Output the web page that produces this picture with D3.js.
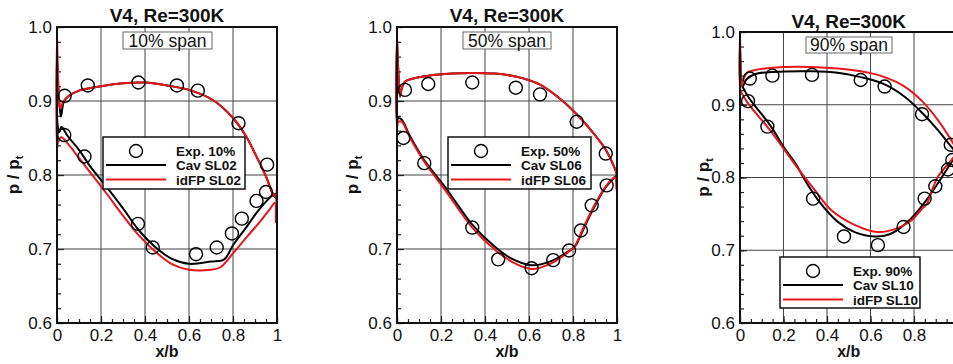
<!DOCTYPE html>
<html>
<head>
<meta charset="utf-8">
<script src="https://cdn.jsdelivr.net/npm/d3@7"></script>
<style>
  body { margin: 0; background: #fff; }
  svg { display: block; font-family: "Liberation Sans", Arial, sans-serif; }
</style>
</head>
<body>
<div id="chart-area"></div>
<script>
// axis ticks
const xTicks = [0, 0.2, 0.4, 0.6, 0.8, 1];
const xTicksCut = [0, 0.2, 0.4, 0.6, 0.8];   // last panel is cut at the page edge
const yTicks = [0.6, 0.7, 0.8, 0.9, 1.0];
const xMinor = d3.range(0, 1.0001, 0.05);
const yMinor = d3.range(0.6, 1.0001, 0.02);

const titleText = "V4, Re=300K";
const spanLabels = ["10% span", "50% span", "90% span"];
const expLabels = ["Exp. 10%", "Exp. 50%", "Exp. 90%"];
const cavLabels = ["Cav SL02", "Cav SL06", "Cav SL10"];
const idfpLabels = ["idFP SL02", "idFP SL06", "idFP SL10"];

// 10% span  [x/b, p/pt]
const exp10 = [[0.035,0.907],[0.14,0.921],[0.37,0.925],[0.545,0.921],[0.64,0.914],[0.825,0.870],[0.955,0.814],
  [0.033,0.854],[0.125,0.825],[0.368,0.734],[0.435,0.702],[0.632,0.693],[0.726,0.702],[0.795,0.721],
  [0.84,0.741],[0.907,0.765],[0.95,0.777]];
const cav02 = [[1.0,0.768],[0.985,0.772],[0.95,0.798],[0.9,0.829],[0.86,0.852],[0.8,0.877],[0.71,0.901],
  [0.6,0.915],[0.5,0.921],[0.4,0.925],[0.3,0.924],[0.2,0.920],[0.1,0.914],[0.05,0.906],[0.03,0.898],
  [0.018,0.879],[0.01,0.9],[0.004,0.93],[0,0.96],[0.002,0.87],[0.01,0.858],[0.02,0.865],[0.05,0.852],
  [0.1,0.834],[0.15,0.812],[0.22,0.786],[0.3,0.755],[0.37,0.726],[0.445,0.703],[0.52,0.687],[0.6,0.680],
  [0.7,0.683],[0.76,0.686],[0.8,0.705],[0.862,0.730],[0.923,0.755],[0.983,0.773],[1.0,0.775]];
const idfp02 = [[1.0,0.77],[0.985,0.773],[0.95,0.798],[0.9,0.829],[0.86,0.852],[0.8,0.877],[0.71,0.901],
  [0.6,0.915],[0.5,0.921],[0.4,0.925],[0.3,0.924],[0.2,0.920],[0.1,0.914],[0.05,0.906],[0.03,0.9],
  [0.014,0.89],[0.008,0.91],[0.003,0.95],[0,0.99],[0,0.836],[0.005,0.845],[0.02,0.851],[0.05,0.842],
  [0.1,0.823],[0.22,0.777],[0.3,0.745],[0.37,0.719],[0.445,0.697],[0.52,0.680],[0.6,0.672],[0.7,0.672],
  [0.741,0.675],[0.8,0.694],[0.862,0.716],[0.923,0.737],[0.968,0.754],[0.99,0.762],[0.995,0.736],
  [0.998,0.78],[1.0,0.77]];

// 50% span
const exp50 = [[0.036,0.915],[0.142,0.923],[0.342,0.925],[0.54,0.918],[0.65,0.909],[0.817,0.872],[0.949,0.829],
  [0.029,0.850],[0.124,0.816],[0.342,0.729],[0.46,0.686],[0.612,0.674],[0.71,0.685],[0.782,0.698],
  [0.836,0.725],[0.885,0.759],[0.953,0.786]];
const cav06 = [[1.0,0.80],[0.99,0.809],[0.949,0.834],[0.9,0.854],[0.817,0.882],[0.749,0.901],[0.65,0.922],
  [0.54,0.933],[0.445,0.937],[0.342,0.938],[0.25,0.937],[0.142,0.934],[0.07,0.93],[0.036,0.926],
  [0.02,0.915],[0.014,0.906],[0.008,0.93],[0.003,0.96],[0,0.98],[0,0.872],[0.006,0.877],[0.021,0.875],
  [0.06,0.852],[0.124,0.820],[0.218,0.784],[0.342,0.733],[0.445,0.703],[0.521,0.687],[0.612,0.678],
  [0.703,0.684],[0.779,0.697],[0.81,0.704],[0.84,0.722],[0.885,0.750],[0.945,0.782],[0.99,0.797],[1.0,0.80]];
const idfp06 = [[1.0,0.80],[0.99,0.809],[0.949,0.834],[0.9,0.854],[0.817,0.882],[0.749,0.901],[0.65,0.922],
  [0.54,0.933],[0.445,0.937],[0.342,0.938],[0.25,0.937],[0.142,0.934],[0.07,0.93],[0.036,0.926],
  [0.02,0.915],[0.014,0.906],[0.008,0.93],[0.003,0.96],[0,0.99],[0,0.865],[0.006,0.872],[0.021,0.872],
  [0.06,0.850],[0.124,0.818],[0.218,0.780],[0.342,0.729],[0.445,0.699],[0.521,0.683],[0.612,0.673],
  [0.703,0.681],[0.779,0.696],[0.81,0.705],[0.84,0.724],[0.885,0.752],[0.945,0.783],[0.99,0.797],
  [0.998,0.78],[1.0,0.812]];

// 90% span
const exp90 = [[0.037,0.905],[0.045,0.936],[0.149,0.940],[0.331,0.941],[0.555,0.934],[0.665,0.925],[0.837,0.887],
  [0.969,0.845],[0.126,0.870],[0.336,0.771],[0.478,0.719],[0.634,0.707],[0.752,0.732],[0.849,0.771],
  [0.898,0.788],[0.956,0.811],[0.976,0.824]];
const cav10 = [[1.0,0.832],[0.972,0.842],[0.91,0.865],[0.837,0.889],[0.757,0.911],[0.665,0.928],[0.555,0.938],
  [0.45,0.944],[0.331,0.946],[0.149,0.945],[0.068,0.942],[0.03,0.935],[0.012,0.925],[0.006,0.93],
  [0.002,0.96],[0,0.98],[0.002,0.93],[0.008,0.927],[0.04,0.91],[0.138,0.872],[0.205,0.840],[0.26,0.817],
  [0.297,0.797],[0.359,0.769],[0.45,0.739],[0.527,0.725],[0.619,0.719],[0.696,0.723],[0.788,0.744],
  [0.857,0.769],[0.91,0.792],[0.979,0.824],[1.0,0.832]];
const idfp10 = [[1.0,0.836],[0.972,0.851],[0.91,0.879],[0.837,0.905],[0.757,0.925],[0.665,0.938],[0.555,0.946],
  [0.331,0.952],[0.149,0.951],[0.06,0.947],[0.037,0.945],[0.015,0.935],[0.006,0.925],[0.002,0.96],
  [0,0.998],[0.002,0.92],[0.008,0.916],[0.037,0.902],[0.138,0.865],[0.26,0.815],[0.343,0.783],
  [0.42,0.755],[0.527,0.735],[0.634,0.725],[0.711,0.729],[0.788,0.741],[0.84,0.758],[0.86,0.764],
  [0.87,0.772],[0.91,0.801],[0.972,0.824],[1.0,0.836]];

const W = 953, H = 364;

let svg = d3.select("#chart-area")
  .append("svg")
  .attr("width", W)
  .attr("height", H);

// panel layout
const panels = [
  { left: 57, top: 27, w: 220, h: 296, exp: exp10, cav: cav02, idfp: idfp02, xLab: xTicks,
    titleY: 22, span: [123, 32, 89, 17], legend: [103, 137, 142, 52], yLabelX: 19 },
  { left: 397, top: 27, w: 220, h: 296, exp: exp50, cav: cav06, idfp: idfp06, xLab: xTicks,
    titleY: 22, span: [463, 32, 88, 17], legend: [448, 137, 143, 52], yLabelX: 358 },
  { left: 740, top: 32, w: 217.5, h: 291, exp: exp90, cav: cav10, idfp: idfp10, xLab: xTicksCut,
    titleY: 28, span: [806, 37, 86, 16], legend: [780, 257, 140, 51], yLabelX: 709 }
];

panels.forEach(function(p, i) {
  let x = d3.scaleLinear().domain([0, 1]).range([p.left, p.left + p.w]);
  let y = d3.scaleLinear().domain([0.6, 1.0]).range([p.top + p.h, p.top]);
  let g = svg.append("g");

  // grid
  g.selectAll(".gx").data(xTicks.slice(1, -1)).enter().append("line")
    .attr("x1", d => x(d)).attr("x2", d => x(d))
    .attr("y1", p.top).attr("y2", p.top + p.h)
    .attr("stroke", "#444").attr("stroke-width", 1);
  g.selectAll(".gy").data(yTicks.slice(1, -1)).enter().append("line")
    .attr("x1", p.left).attr("x2", p.left + p.w)
    .attr("y1", d => y(d)).attr("y2", d => y(d))
    .attr("stroke", "#444").attr("stroke-width", 1);

  // minor + major ticks (inside)
  let bottom = p.top + p.h;
  g.append("g").attr("transform", "translate(0," + bottom + ")")
    .call(d3.axisBottom(x).tickValues(xMinor).tickSize(-4).tickFormat(""))
    .call(a => a.select(".domain").remove());
  g.append("g").attr("transform", "translate(" + p.left + ",0)")
    .call(d3.axisLeft(y).tickValues(yMinor).tickSize(-4).tickFormat(""))
    .call(a => a.select(".domain").remove());
  g.append("g").attr("transform", "translate(0," + bottom + ")")
    .call(d3.axisBottom(x).tickValues(p.xLab).tickSize(-7).tickPadding(4).tickFormat(d3.format("")))
    .call(a => a.select(".domain").remove())
    .call(a => a.selectAll("text").attr("font-size", 17).attr("fill", "#111").attr("dy", "0.85em")
      .attr("font-family", "Liberation Sans, Arial, sans-serif"));
  g.append("g").attr("transform", "translate(" + p.left + ",0)")
    .call(d3.axisLeft(y).tickValues(yTicks).tickSize(-7).tickPadding(5).tickFormat(d3.format(".1f")))
    .call(a => a.select(".domain").remove())
    .call(a => a.selectAll("text").attr("font-size", 17).attr("fill", "#111")
      .attr("font-family", "Liberation Sans, Arial, sans-serif"));
  g.selectAll(".tick line").attr("stroke", "#222").attr("stroke-width", 1.2);

  // curves
  let line = d3.line()
    .x(d => x(d[0])).y(d => y(d[1]))
    .curve(d3.curveCatmullRom.alpha(0.5));
  g.append("path").datum(p.cav).attr("d", line)
    .attr("fill", "none").attr("stroke", "#000").attr("stroke-width", 2);
  g.append("path").datum(p.idfp).attr("d", line)
    .attr("fill", "none").attr("stroke", "#e8161b").attr("stroke-width", 2);

  // experiment circles
  g.selectAll(".pt").data(p.exp).enter().append("circle")
    .attr("cx", d => x(d[0])).attr("cy", d => y(d[1])).attr("r", 6.5)
    .attr("fill", "none").attr("stroke", "#000").attr("stroke-width", 1.4);

  // frame
  g.append("rect")
    .attr("x", p.left).attr("y", p.top).attr("width", p.w).attr("height", p.h)
    .attr("fill", "none").attr("stroke", "#111").attr("stroke-width", 2);

  // title
  svg.append("text")
    .attr("x", p.left + p.w / 2).attr("y", p.titleY)
    .attr("text-anchor", "middle").attr("font-size", 19).attr("font-weight", "bold")
    .attr("fill", "#111").text(titleText);

  // span label
  let s = p.span;
  svg.append("rect").attr("x", s[0]).attr("y", s[1]).attr("width", s[2]).attr("height", s[3])
    .attr("fill", "#fff").attr("stroke", "#666").attr("stroke-width", 1);
  svg.append("text").attr("x", s[0] + s[2] / 2).attr("y", s[1] + s[3] - 2.5)
    .attr("text-anchor", "middle").attr("font-size", 17.5).attr("fill", "#111")
    .text(spanLabels[i]);

  // legend
  let L = p.legend;
  svg.append("rect").attr("x", L[0]).attr("y", L[1]).attr("width", L[2]).attr("height", L[3])
    .attr("fill", "#fff").attr("stroke", "#111").attr("stroke-width", 1.5);
  let rowY = [L[1] + 14, L[1] + 28, L[1] + 42.5];
  svg.append("circle").attr("cx", L[0] + 33).attr("cy", rowY[0]).attr("r", 6.5)
    .attr("fill", "none").attr("stroke", "#000").attr("stroke-width", 1.4);
  svg.append("line").attr("x1", L[0] + 3).attr("x2", L[0] + 63)
    .attr("y1", rowY[1]).attr("y2", rowY[1]).attr("stroke", "#000").attr("stroke-width", 2);
  svg.append("line").attr("x1", L[0] + 3).attr("x2", L[0] + 63)
    .attr("y1", rowY[2]).attr("y2", rowY[2]).attr("stroke", "#e8161b").attr("stroke-width", 2);
  [expLabels[i], cavLabels[i], idfpLabels[i]].forEach(function(t, k) {
    svg.append("text").attr("x", L[0] + 73).attr("y", rowY[k] + 5)
      .attr("font-size", 13.5).attr("font-weight", "bold").attr("fill", "#111").text(t);
  });

  // axis labels
  svg.append("text")
    .attr("x", p.left + p.w / 2).attr("y", 357)
    .attr("text-anchor", "middle").attr("font-size", 16).attr("font-weight", "bold")
    .attr("fill", "#111").text("x/b");
  let yl = svg.append("text")
    .attr("transform", "translate(" + p.yLabelX + "," + y(0.8) + ") rotate(-90)")
    .attr("text-anchor", "middle").attr("font-size", 17).attr("font-weight", "bold")
    .attr("fill", "#111");
  yl.append("tspan").text("p / p");
  yl.append("tspan").attr("font-size", 11).attr("dy", 4).text("t");
});
</script>
</body>
</html>
